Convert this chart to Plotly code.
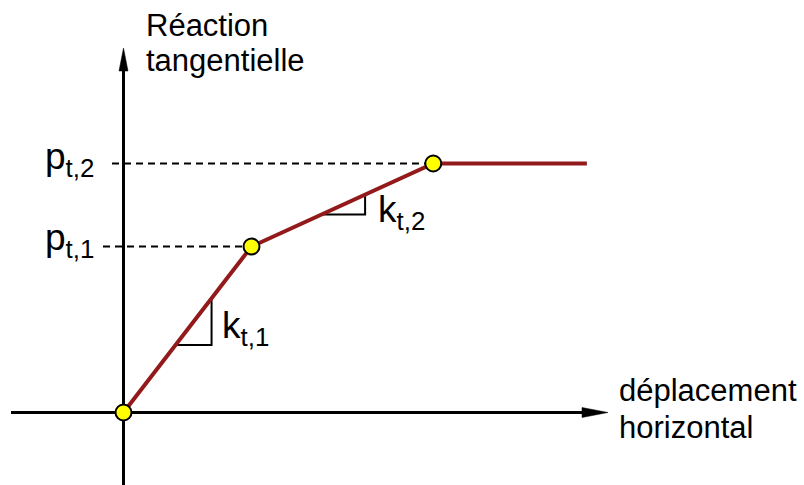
import plotly.graph_objects as go

# ---- data (schematic trilinear law) ----
displacement = [0.0, 1.0, 2.42, 3.62]      # horizontal displacement
reaction = [0.0, 1.0, 1.5, 1.5]            # tangential reaction
break_idx = [0, 1, 2]                      # yellow break points
level_labels = ["p<sub>t,1</sub>", "p<sub>t,2</sub>"]
level_values = [1.0, 1.5]
slope_labels = ["k<sub>t,1</sub>", "k<sub>t,2</sub>"]
axis_titles = {"x": ["déplacement", "horizontal"], "y": ["Réaction", "tangentielle"]}

# ---- layout scale ----
W, H = 804, 485
OX, OY = 123.5, 412.5     # pixel position of origin
SX, SY = 128.0, 166.0     # pixels per unit

def px2x(px):
    return (px - OX) / SX

def px2y(py):
    return (OY - py) / SY

xr = [px2x(0), px2x(W)]
yr = [px2y(H), px2y(0)]

RED = "#931a1a"
FONT = "Liberation Sans"

fig = go.Figure()
shapes = []
annotations = []

# axes lines
x_tip = px2x(608)
y_tip = px2y(48)
shapes.append(dict(type="line", xref="x", yref="y", layer="below",
                   x0=px2x(11), y0=0, x1=x_tip - 20 / SX, y1=0,
                   line=dict(color="black", width=3)))
shapes.append(dict(type="line", xref="x", yref="y", layer="below",
                   x0=0, y0=yr[0], x1=0, y1=y_tip - 18 / SY,
                   line=dict(color="black", width=3)))
# arrow heads (pixel-sized paths anchored at axis tips)
shapes.append(dict(type="path", xref="x", yref="y", xsizemode="pixel", ysizemode="pixel",
                   xanchor=x_tip, yanchor=0, path="M0,0 L-26,5 L-26,-5 Z", layer="below",
                   fillcolor="black", line=dict(color="black", width=0.5)))
shapes.append(dict(type="path", xref="x", yref="y", xsizemode="pixel", ysizemode="pixel",
                   xanchor=0, yanchor=y_tip, path="M0,0 L-4.5,-23 L4.5,-23 Z", layer="below",
                   fillcolor="black", line=dict(color="black", width=0.5)))

# dashed level lines
dash_starts = [px2x(103), px2x(112)]
for v, xs, i in zip(level_values, dash_starts, [1, 2]):
    fig.add_trace(go.Scatter(x=[xs, displacement[i]], y=[v, v], mode="lines",
                             line=dict(color="black", width=2, dash="7px,5px"),
                             hoverinfo="skip", showlegend=False))

# slope triangles
def slope_triangle(i, f0, f1):
    xa, ya = displacement[i], reaction[i]
    xb, yb = displacement[i + 1], reaction[i + 1]
    x0 = xa + f0 * (xb - xa); y0 = ya + f0 * (yb - ya)
    x1 = xa + f1 * (xb - xa); y1 = ya + f1 * (yb - ya)
    return [x0, x1, x1], [y0, y0, y1]

for i, (f0, f1) in enumerate([(0.406, 0.688), (0.385, 0.625)]):
    tx, ty = slope_triangle(i, f0, f1)
    fig.add_trace(go.Scatter(x=tx, y=ty, mode="lines", line=dict(color="black", width=2),
                             hoverinfo="skip", showlegend=False))

# main curve
fig.add_trace(go.Scatter(x=displacement, y=reaction, mode="lines",
                         line=dict(color=RED, width=4), hoverinfo="skip", showlegend=False))
# break points
fig.add_trace(go.Scatter(x=[displacement[i] for i in break_idx], y=[reaction[i] for i in break_idx],
                         mode="markers", marker=dict(size=16, color="#ffff00",
                                                     line=dict(color="black", width=2)),
                         hoverinfo="skip", showlegend=False, cliponaxis=False))

def label(text, px, py, size, xanchor="left", yanchor="middle"):
    annotations.append(dict(text=text, x=px2x(px), y=px2y(py), xref="x", yref="y",
                            showarrow=False, xanchor=xanchor, yanchor=yanchor,
                            font=dict(family=FONT, size=size, color="black")))

# axis titles
label(axis_titles["y"][0], 144, 25, 31)
label(axis_titles["y"][1], 144, 60, 31)
label(axis_titles["x"][0], 617, 390, 31)
label(axis_titles["x"][1], 617, 427, 31)

# level labels
label(level_labels[1], 43, 159, 37)
label(level_labels[0], 43, 240, 37)
# slope labels
label(slope_labels[0], 220, 328, 37)
label(slope_labels[1], 376, 212, 37)

fig.update_layout(
    width=W, height=H, autosize=False,
    margin=dict(l=0, r=0, t=0, b=0),
    paper_bgcolor="white", plot_bgcolor="white",
    xaxis=dict(range=xr, visible=False, fixedrange=True),
    yaxis=dict(range=yr, visible=False, fixedrange=True),
    shapes=shapes, annotations=annotations, showlegend=False,
)
fig.write_html("out.html", config={"displayModeBar": False},
               post_script="document.body.style.margin='0';document.body.style.padding='0';")
